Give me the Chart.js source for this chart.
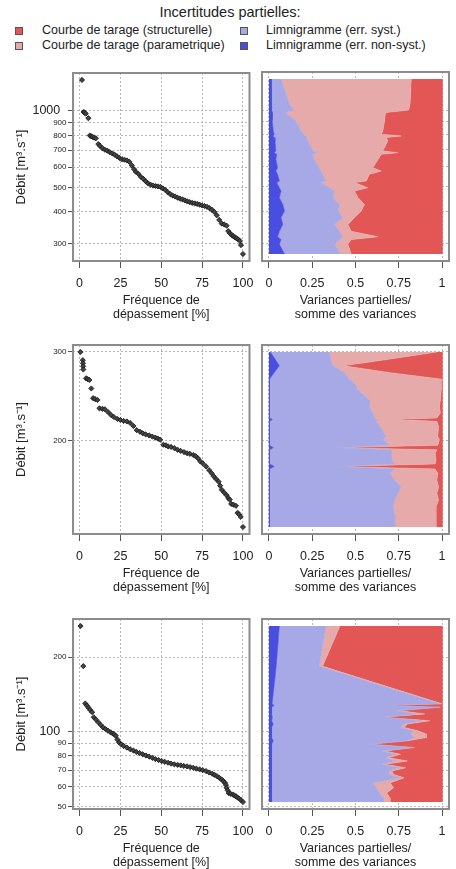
<!DOCTYPE html>
<html lang="fr">
<head>
<meta charset="utf-8">
<title>Incertitudes partielles</title>
<script src="https://cdn.jsdelivr.net/npm/chart.js@4.4.1/dist/chart.umd.min.js"></script>
<style>
  html, body { margin: 0; padding: 0; background: #fff; }
  body { width: 456px; height: 869px; position: relative; overflow: hidden;
         font-family: "Liberation Sans", Arial, sans-serif; color: #222; }
  canvas { position: absolute; }
  #titre { position: absolute; top: 4px; left: 0; width: 460px; text-align: center; font-size: 14.5px; }
  .item { position: absolute; font-size: 12.5px; line-height: 15px; white-space: nowrap; }
  .carre { position: absolute; width: 6px; height: 6px; border: 1px solid #555; }
</style>
</head>
<body>
<div id="titre">Incertitudes partielles:</div>

<script>
// --- donnees : courbes des debits classes (frequence de depassement en %, debit en m3/s)
const freqRow1 = [1.5, 2.5, 3, 3.8, 5.4, 6.3, 7, 8, 9, 10, 11.5, 12.5, 14, 15.5, 17, 18.5, 20, 21.5, 23, 24.5, 26, 27.5, 29, 30.5, 32, 33.3, 34.5, 36, 37.5, 39, 40.5, 42, 43.5, 45, 46.5, 48, 49.5, 51, 52.5, 54, 55.5, 57, 58.5, 60, 61.5, 63, 64.5, 66, 67.5, 69, 70.5, 72, 73.5, 75, 76.5, 78, 79.5, 81, 82.5, 84, 85.5, 87, 88.5, 90, 91, 92, 93, 94, 95, 96, 97, 98, 98.8, 100];
const qRow1 = [1324, 990, 985, 975, 936, 800, 795, 790, 785, 780, 740, 728, 713, 703, 697, 688, 680, 672, 662, 652, 645, 642, 638, 630, 610, 590, 575, 565, 550, 540, 528, 518, 512, 508, 506, 504, 502, 495, 488, 478, 470, 464, 460, 455, 451, 448, 444, 440, 437, 434, 432, 430, 427, 424, 422, 419, 414, 408, 400, 388, 372, 360, 357, 353, 336, 330, 325, 321, 318, 315, 312, 308, 296, 273];

const freqRow2 = [0.6, 2, 2.1, 2.2, 2.3, 4, 5, 6, 7.2, 8.3, 9.5, 11, 12.2, 14, 15.5, 17.5, 19.3, 21, 23.2, 25, 27, 29, 31, 33, 35, 37, 38.7, 40.5, 42.6, 44.5, 46.4, 48, 49.3, 51.3, 52.8, 54.2, 56, 58, 60, 61.9, 64, 65.8, 67.5, 69.6, 71, 72.5, 74, 75.4, 77.4, 79.3, 80.8, 82.2, 83.6, 85.1, 86, 87, 88.5, 90, 91, 91.9, 92.8, 94.2, 95.7, 96.7, 97.6, 98.6, 100];
const qRow2 = [300, 289, 285, 281, 277, 266, 265, 264, 254, 243, 242, 241, 232, 231.5, 231, 228, 225, 223, 221, 220, 219, 218.5, 217, 214, 210, 208.5, 207, 206, 205, 204, 203, 202, 201, 196.5, 196, 195, 194.5, 193.5, 192, 191, 190, 189, 188.5, 187.5, 186.5, 184.7, 182, 180.5, 178, 175, 172.5, 170, 168, 166, 163, 160, 158, 156, 154, 153, 150, 149.5, 148.7, 144, 143, 141.4, 135];

const freqRow3 = [0.6, 2.3, 3.5, 4.5, 5.5, 6.5, 7.7, 8.7, 10, 11.6, 13, 14.5, 16, 17.4, 19, 20.3, 21.3, 22.2, 23.2, 24.2, 25.5, 27, 29, 31, 33, 34.8, 36.8, 38.7, 40.6, 42.6, 44.5, 46.4, 48.4, 50.3, 52.2, 54.2, 56, 58, 60, 61.9, 63.8, 65.8, 67.7, 69.6, 71.5, 73.5, 75.4, 77.4, 79.3, 81.2, 82.6, 84.1, 85.5, 87, 88, 89, 89.6, 90, 90.7, 91.3, 92.5, 93.8, 94.8, 95.7, 96.7, 97.7, 98.8, 100];
const qRow3 = [267, 184, 130, 127.5, 125, 122.5, 120, 114.4, 112, 109, 106.5, 104, 102.5, 101, 99.5, 98.4, 97.5, 96.3, 93, 90.5, 89, 87.7, 86.3, 85, 84, 82.9, 82, 81.1, 80.2, 79.4, 78.5, 77.6, 76.9, 76.2, 75.6, 75, 74.4, 73.9, 73.5, 73.2, 72.8, 72.5, 72, 71.6, 71, 70.5, 70, 69.4, 68.5, 67.7, 67, 66.2, 65.2, 64.2, 63.2, 62.2, 61, 59.4, 58, 56.6, 56.2, 55.8, 55.3, 54.9, 54.3, 53.7, 53, 52.1];

// --- donnees : parts de variance (somme = 1) pour chaque debit
const qAreaRow1 = [1324, 1056, 1000, 979, 964, 908, 829, 805, 792, 781, 758, 692, 681, 671, 641, 595, 577, 560, 527, 520, 496, 482, 454, 427, 402, 379, 356, 335, 319, 311, 298, 273];
const nonSystRow1 = [.012, .015, .015, .02, .018, .02, .025, .03, .025, .03, .035, .04, .03, .045, .04, .05, .04, .05, .06, .045, .06, .07, .06, .08, .09, .07, .08, .06, .05, .07, .06, .09];
const systRow1 = [.058, .103, .128, .078, .09, .136, .16, .17, .185, .184, .189, .213, .252, .208, .22, .24, .26, .26, .27, .255, .29, .308, .31, .327, .31, .357, .298, .347, .377, .34, .318, .327];
const paramRow1 = [.752, .697, .664, .58, .564, .512, .473, .449, .555, .464, .463, .405, .463, .396, .37, .31, .349, .27, .232, .194, .221, .116, .144, .145, .133, .067, .078, .068, .203, .065, .078, .058];
const structRow1 = [.178, .185, .193, .322, .328, .332, .342, .351, .235, .322, .313, .342, .255, .351, .37, .4, .351, .42, .438, .506, .429, .506, .486, .448, .467, .506, .544, .525, .37, .525, .544, .525];

const qAreaRow2 = [300, 290.5, 281.8, 273, 265, 260, 252.5, 241, 234, 227, 222, 220.4, 218.6, 213.5, 204, 201, 196, 193.9, 192, 189, 183.4, 180, 178, 176, 172.5, 167.3, 162.3, 157.4, 152.6, 148, 143.6, 135];
const nonSystRow2 = [.008, .035, .06, .03, .003, .003, .003, .003, .003, .003, .003, .02, .003, .003, .003, .003, .003, .025, .003, .003, .003, .003, .03, .003, .003, .003, .003, .003, .003, .003, .003, .003];
const systRow2 = [.342, .32, .31, .406, .462, .491, .511, .577, .577, .597, .607, .60, .617, .637, .675, .657, .697, .353, .703, .704, .704, .723, .358, .723, .697, .723, .761, .742, .723, .713, .723, .723];
const paramRow2 = [.62, .345, .06, .264, .535, .501, .481, .41, .405, .39, .36, .09, .35, .34, .297, .325, .275, .012, .264, .253, .258, .234, .012, .234, .275, .244, .216, .225, .254, .249, .239, .239];
const structRow2 = [.03, .30, .57, .30, 0, .005, .005, .01, .015, .01, .03, .29, .03, .02, .025, .015, .025, .61, .03, .04, .035, .04, .60, .04, .025, .03, .02, .03, .02, .035, .035, .035];

const qAreaRow3 = [267, 183.8, 129.6, 127.6, 125.6, 121.7, 118, 114.4, 110.8, 107.4, 104.1, 100.9, 97.8, 94.8, 91.9, 89.1, 86.4, 83.7, 81.1, 78.6, 76.2, 73.9, 71.6, 69.4, 67.3, 65.2, 62.2, 59.4, 56.6, 54.1, 52.1];
const nonSystRow3 = [.06, .042, .018, .03, .015, .015, .015, .02, .015, .025, .015, .015, .015, .015, .025, .015, .015, .015, .015, .015, .015, .015, .015, .015, .015, .015, .015, .015, .015, .015, .015];
const systRow3 = [.27, .248, .967, .62, .965, .715, .835, .63, .865, .755, .745, .815, .805, .825, .765, .555, .805, .635, .715, .655, .715, .635, .735, .675, .675, .745, .585, .605, .625, .645, .645];
const paramRow3 = [.08, .02, .015, .01, .01, .02, .05, .01, .05, .02, .02, .03, .09, .07, .01, .01, .02, .02, .03, .02, .07, .02, .04, .02, .03, .02, .10, .10, .04, .04, .04];
const structRow3 = [.59, .69, 0, .34, .01, .25, .10, .34, .07, .20, .22, .14, .09, .09, .20, .42, .16, .33, .24, .31, .20, .33, .21, .29, .28, .22, .30, .28, .32, .30, .30];

// --- graduations
const freqTicks = [0, 25, 50, 75, 100];
const shareTicks = [0, 0.25, 0.5, 0.75, 1];
const yTicksRow1 = [300, 400, 500, 600, 700, 800, 900, 1000];
const yTicksRow2 = [200, 300];
const yTicksRow3 = [50, 60, 70, 80, 90, 100, 200];
const bigTicks = [100, 1000];

// --- series (ordre d'empilement de 0 vers 1)
const seriesLabels = ['Limnigramme (err. non-syst.)', 'Limnigramme (err. syst.)', 'Courbe de tarage (parametrique)', 'Courbe de tarage (structurelle)'];
const seriesColors = ['#4a4ee0', '#a6a9e6', '#e6aaaa', '#e25656'];

const FONT = '"Liberation Sans", Arial, sans-serif';
Chart.defaults.font.family = FONT;
Chart.defaults.color = '#222';

// position des cadres de chaque rangee (haut, bas) en px
const rowBoxes = [[72, 261], [345, 534], [619, 809]];

// legende en haut
function buildLegend() {
  // [indice de serie, colonne, ligne]
  const places = [[3, 0, 0], [2, 0, 1], [1, 1, 0], [0, 1, 1]];
  places.forEach(([s, col, row]) => {
    const cy = 31 + row * 15;
    const sq = document.createElement('div');
    sq.className = 'carre';
    sq.style.left = (col ? 240 : 15) + 'px';
    sq.style.top = (cy - 4) + 'px';
    sq.style.background = seriesColors[s];
    document.body.appendChild(sq);
    const txt = document.createElement('div');
    txt.className = 'item';
    txt.style.left = (col ? 266 : 42) + 'px';
    txt.style.top = (cy - 8) + 'px';
    txt.textContent = seriesLabels[s];
    document.body.appendChild(txt);
  });
}

// cadre gris autour de la zone de trace
const framePlugin = {
  id: 'frame',
  afterDraw(chart) {
    const { ctx, chartArea: a } = chart;
    ctx.save();
    ctx.strokeStyle = '#8c8c8c';
    ctx.lineWidth = 2;
    ctx.strokeRect(a.left, a.top, a.right - a.left, a.bottom - a.top);
    ctx.restore();
  }
};

function logRange(values) {
  const lo = Math.log10(Math.min(...values));
  const hi = Math.log10(Math.max(...values));
  const ext = 0.04 * (hi - lo);
  return [Math.pow(10, lo - ext), Math.pow(10, hi + ext)];
}

function makeCanvas(left, top, width, height) {
  const c = document.createElement('canvas');
  c.width = width; c.height = height;
  c.style.left = left + 'px'; c.style.top = top + 'px';
  c.style.width = width + 'px'; c.style.height = height + 'px';
  document.body.appendChild(c);
  return c;
}

const gridDash = [2, 2];
const X_AXIS_H = 61;

function xScale(min, max, ticks, title) {
  return {
    type: 'linear', min: min, max: max,
    afterBuildTicks: s => { s.ticks = ticks.map(v => ({ value: v })); },
    afterFit: s => { s.height = X_AXIS_H; },
    grid: { color: '#b8b8b8', lineWidth: 1, drawTicks: true, tickLength: 7, tickColor: '#555', tickWidth: 1, tickBorderDash: [] },
    border: { display: false, dash: gridDash },
    ticks: { autoSkip: false, maxRotation: 0, padding: 8.5, color: '#222', font: { size: 12.5 }, callback: v => String(v) },
    title: { display: true, text: title, color: '#222', font: { size: 12.5, lineHeight: 1.15 }, padding: { top: 0, bottom: 0 } }
  };
}

function yScale(range, ticks, withLabels) {
  return {
    type: 'logarithmic', min: range[0], max: range[1],
    afterBuildTicks: s => { s.ticks = ticks.map(v => ({ value: v })); },
    afterFit: s => { s.width = withLabels ? 73 : 7; },
    grid: { color: '#b8b8b8', lineWidth: 1, drawTicks: withLabels, tickLength: 5, tickColor: '#555', tickWidth: 1, tickBorderDash: [] },
    border: { display: false, dash: gridDash },
    ticks: {
      display: withLabels, autoSkip: false, padding: 1.5, color: '#222',
      font: ctx => ({ size: bigTicks.includes(ctx.tick && ctx.tick.value) ? 12.5 : 8 }),
      callback: v => bigTicks.includes(v) ? v + '\u2002' : String(v)
    },
    title: {
      display: withLabels, text: 'Débit [m³.s⁻¹]', color: '#222',
      font: { size: 13 }, padding: { top: 14, bottom: 0 }
    }
  };
}

// panneau de gauche : courbe des debits classes
function leftPanel(boxTop, boxBottom, freq, q, yTicks) {
  const canvas = makeCanvas(0, boxTop - 8, 262, boxBottom - boxTop + 8 + X_AXIS_H);
  new Chart(canvas, {
    type: 'scatter',
    data: {
      datasets: [{
        data: freq.map((f, i) => ({ x: f, y: q[i] })),
        pointStyle: 'rectRot', pointRadius: 2.6,
        backgroundColor: '#444', borderColor: '#111', borderWidth: 0.8
      }]
    },
    options: {
      responsive: false, animation: false, events: [],
      layout: { padding: { top: 8, right: 3, left: 0, bottom: 0 }, autoPadding: false },
      plugins: { legend: { display: false }, tooltip: { enabled: false } },
      scales: {
        x: xScale(-4, 104, freqTicks, ['Fréquence de', 'dépassement [%]']),
        y: yScale(logRange(q), yTicks, true)
      }
    },
    plugins: [framePlugin]
  });
}

// panneau de droite : parts de variance empilees
function rightPanel(boxTop, boxBottom, q, qArea, shares, yTicks) {
  const canvas = makeCanvas(255, boxTop - 8, 201, boxBottom - boxTop + 8 + X_AXIS_H);
  const datasets = shares.map((vals, k) => ({
    label: seriesLabels[k],
    data: qArea.map((qq, i) => ({ x: vals[i], y: qq })),
    fill: k === 0 ? 'origin' : '-1',
    backgroundColor: seriesColors[k],
    borderColor: seriesColors[k],
    borderWidth: 0.6,
    pointRadius: 0,
    tension: 0
  }));
  new Chart(canvas, {
    type: 'line',
    data: { datasets: datasets },
    options: {
      indexAxis: 'y',
      responsive: false, animation: false, events: [],
      layout: { padding: { top: 8, right: 7, left: 0, bottom: 0 }, autoPadding: false },
      plugins: { legend: { display: false }, tooltip: { enabled: false } },
      scales: {
        x: Object.assign(xScale(-0.04, 1.04, shareTicks, ['Variances partielles/', 'somme des variances']), { stacked: true }),
        y: yScale(logRange(q), yTicks, false)
      }
    },
    plugins: [framePlugin]
  });
}

buildLegend();

leftPanel(rowBoxes[0][0], rowBoxes[0][1], freqRow1, qRow1, yTicksRow1);
rightPanel(rowBoxes[0][0], rowBoxes[0][1], qRow1, qAreaRow1, [nonSystRow1, systRow1, paramRow1, structRow1], yTicksRow1);

leftPanel(rowBoxes[1][0], rowBoxes[1][1], freqRow2, qRow2, yTicksRow2);
rightPanel(rowBoxes[1][0], rowBoxes[1][1], qRow2, qAreaRow2, [nonSystRow2, systRow2, paramRow2, structRow2], yTicksRow2);

leftPanel(rowBoxes[2][0], rowBoxes[2][1], freqRow3, qRow3, yTicksRow3);
rightPanel(rowBoxes[2][0], rowBoxes[2][1], qRow3, qAreaRow3, [nonSystRow3, systRow3, paramRow3, structRow3], yTicksRow3);
</script>
</body>
</html>
